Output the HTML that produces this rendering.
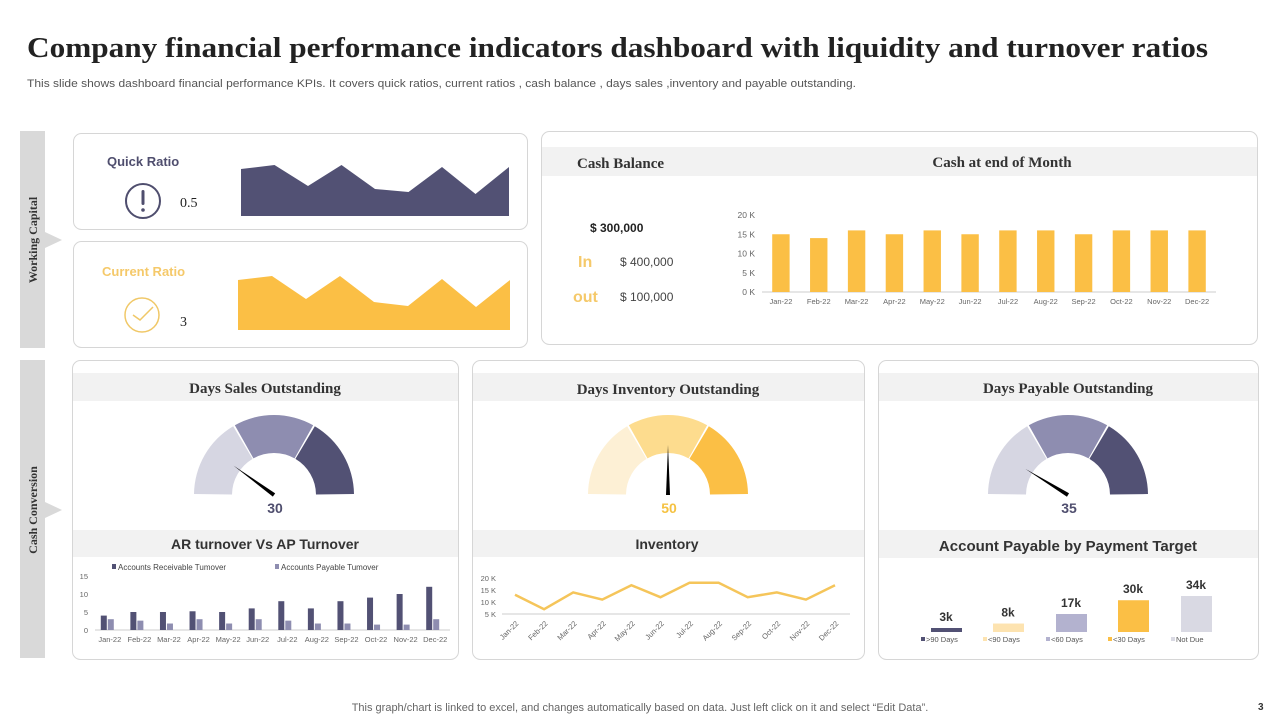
<!DOCTYPE html>
<html><head><meta charset="utf-8"><style>
body{margin:0;background:#fff;width:1280px;height:720px;overflow:hidden}
svg{display:block;font-family:"Liberation Sans",sans-serif}
.serif{font-family:"Liberation Serif",serif;font-weight:bold}
</style></head><body>
<svg id="s" width="1280" height="720" xmlns="http://www.w3.org/2000/svg">
<text x="27" y="57" class="serif" font-size="28" fill="#222" textLength="1181" lengthAdjust="spacingAndGlyphs">Company financial performance indicators dashboard with liquidity and turnover ratios</text>
<text x="27" y="87" font-size="11" fill="#555" textLength="829" lengthAdjust="spacingAndGlyphs">This slide shows dashboard financial performance KPIs. It covers quick ratios, current ratios , cash balance , days sales ,inventory and payable outstanding.</text>

<rect x="20" y="131" width="25" height="217" fill="#d9d9d9"/>
<polygon points="45,232 62,240 45,248" fill="#d9d9d9"/>
<text transform="translate(37,240) rotate(-90)" text-anchor="middle" class="serif" font-size="12" fill="#333">Working Capital</text>
<rect x="20" y="360" width="25" height="298" fill="#d9d9d9"/>
<polygon points="45,502 62,510 45,518" fill="#d9d9d9"/>
<text transform="translate(37,510) rotate(-90)" text-anchor="middle" class="serif" font-size="12" fill="#333">Cash Conversion</text>

<g fill="#fff" stroke="#d6d6d6" stroke-width="1">
<rect x="73.5" y="133.5" width="454" height="96" rx="8"/>
<rect x="73.5" y="241.5" width="454" height="106" rx="8"/>
<rect x="541.5" y="131.5" width="716" height="213" rx="8"/>
<rect x="72.5" y="360.5" width="386" height="299" rx="8"/>
<rect x="472.5" y="360.5" width="392" height="299" rx="8"/>
<rect x="878.5" y="360.5" width="380" height="299" rx="8"/>
</g>
<g fill="#f2f2f2">
<rect x="542" y="147" width="715" height="29"/>
<rect x="73" y="373" width="385" height="28"/><rect x="473" y="373" width="391" height="28"/><rect x="879" y="373" width="379" height="28"/>
<rect x="73" y="530" width="385" height="27"/><rect x="473" y="530" width="391" height="27"/><rect x="879" y="530" width="379" height="28"/>
</g>

<text x="107" y="166" font-size="13" font-weight="bold" fill="#4f4e6e">Quick Ratio</text>
<circle cx="143" cy="201" r="17" fill="none" stroke="#4f4e6e" stroke-width="2"/>
<rect x="141.5" y="190" width="3" height="15" rx="1.5" fill="#4f4e6e"/><circle cx="143" cy="210" r="1.8" fill="#4f4e6e"/>
<text x="180" y="207" font-family="Liberation Serif" font-size="14" fill="#222">0.5</text>
<text x="102" y="276" font-size="13" font-weight="bold" fill="#f5c96a">Current Ratio</text>
<circle cx="142" cy="315" r="17" fill="none" stroke="#f0c868" stroke-width="1.5"/>
<polyline points="133,315 140,320 153,307" fill="none" stroke="#f0c868" stroke-width="1.5"/>
<text x="180" y="326" font-family="Liberation Serif" font-size="14" fill="#222">3</text>

<text x="577" y="168" class="serif" font-size="15" fill="#333">Cash Balance</text>
<text x="1002" y="167" text-anchor="middle" class="serif" font-size="15" fill="#333">Cash at end of Month</text>
<text x="590" y="232" font-size="12" font-weight="bold" fill="#222">$ 300,000</text>
<text x="578" y="267" font-size="16" font-weight="bold" fill="#f5c96a">In</text>
<text x="620" y="266" font-size="12" fill="#444">$ 400,000</text>
<text x="573" y="302" font-size="16" font-weight="bold" fill="#f5c96a">out</text>
<text x="620" y="301" font-size="12" fill="#444">$ 100,000</text>

<text x="265" y="393" text-anchor="middle" class="serif" font-size="15" fill="#333">Days Sales Outstanding</text>
<text x="668" y="394" text-anchor="middle" class="serif" font-size="15" fill="#333">Days Inventory Outstanding</text>
<text x="1068" y="393" text-anchor="middle" class="serif" font-size="15" fill="#333">Days Payable Outstanding</text>
<text x="265" y="549" text-anchor="middle" font-size="14" font-weight="bold" fill="#333">AR turnover Vs AP Turnover</text>
<text x="667" y="549" text-anchor="middle" font-size="14" font-weight="bold" fill="#333">Inventory</text>
<text x="1068" y="551" text-anchor="middle" font-size="15" font-weight="bold" fill="#333">Account Payable by Payment Target</text>

<text x="640" y="711" text-anchor="middle" font-size="11" fill="#666">This graph/chart is linked to excel,  and changes automatically based on data. Just left click on it and select “Edit Data”.</text>
<text x="1258" y="710" font-size="10" font-weight="bold" fill="#333">3</text>
<g id="dyn"></g>
</svg>
<script>
const months=["Jan-22","Feb-22","Mar-22","Apr-22","May-22","Jun-22","Jul-22","Aug-22","Sep-22","Oct-22","Nov-22","Dec-22"];
const quickRatio=[47,51,30,51,27,24,49,22,49];
const currentRatio=[50,54,31,54,28,24,51,23,50];
const cashK=[15,14,16,15,16,15,16,16,15,16,16,16];
const cashTicks=["0 K","5 K","10 K","15 K","20 K"];
const arTurnover=[4,5,5,5.2,5,6,8,6,8,9,10,12];
const apTurnover=[3,2.6,1.8,3,1.8,3,2.6,1.8,1.8,1.5,1.5,3];
const arTicks=["0","5","10","15"];
const inventoryK=[13,7,14,11,17,12,18,18,12,14,11,17];
const invTicks=["5 K","10 K","15 K","20 K"];
const payCats=[">90 Days","<90 Days","<60 Days","<30 Days","Not Due"];
const payVals=[3,8,17,30,34];
const payLabels=["3k","8k","17k","30k","34k"];
const gaugeVals=[30,50,35];
const gaugeMax=[150,100,200];

const NS="http://www.w3.org/2000/svg",G=document.getElementById('dyn');
function mk(t,a,txt){const e=document.createElementNS(NS,t);for(const k in a)e.setAttribute(k,a[k]);if(txt!==undefined)e.textContent=txt;G.appendChild(e);return e;}

function area(vals,x0,x1,base,col,name){
  const sx=i=>x0+i*(x1-x0)/(vals.length-1);
  let d=`M${x0},${base}`;vals.forEach((v,i)=>d+=` L${sx(i)},${base-v}`);d+=` L${x1},${base} Z`;
  const p=mk('path',{d,fill:col});
  
  
}
area(quickRatio,241,509,216,'#525174','quick-ratio-area');
area(currentRatio,238,510,330,'#fbbf45','current-ratio-area');

{const y0=292,yk=v=>y0-v*(77/20),x0=762,x1=1216,bw=(x1-x0)/12;
 cashTicks.forEach((t,i)=>mk('text',{x:755,y:yk(i*5)+3,'text-anchor':'end','font-size':8.5,fill:'#666'},t));
 mk('line',{x1:x0,y1:y0,x2:x1,y2:y0,stroke:'#ccc'});
 cashK.forEach((v,i)=>{const r=mk('rect',{x:x0+i*bw+bw*0.27,y:yk(v),width:bw*0.46,height:y0-yk(v),fill:'#fbbf45'});
  
  
  mk('text',{x:x0+i*bw+bw/2,y:y0+12,'text-anchor':'middle','font-size':7.5,fill:'#666'},months[i]);});}

{const y0=630,yv=v=>y0-v*(54/15),x0=95,x1=450,bw=(x1-x0)/12;
 arTicks.forEach((t,i)=>mk('text',{x:88,y:yv(i*5)+3,'text-anchor':'end','font-size':7.5,fill:'#666'},t));
 mk('line',{x1:x0,y1:y0,x2:x1,y2:y0,stroke:'#ccc'});
 months.forEach((m,i)=>{const cx=x0+i*bw+bw/2;
  const a=mk('rect',{x:cx-9,y:yv(arTurnover[i]),width:6,height:y0-yv(arTurnover[i]),fill:'#525174'});
  
  
  const b=mk('rect',{x:cx-2,y:yv(apTurnover[i]),width:6,height:y0-yv(apTurnover[i]),fill:'#8e8db0'});
  
  
  mk('text',{x:cx,y:y0+12,'text-anchor':'middle','font-size':7.5,fill:'#666'},m);});
 mk('rect',{x:112,y:564,width:4,height:5,fill:'#525174'});
 mk('text',{x:118,y:570,'font-size':8,fill:'#444'},'Accounts Receivable Tumover');
 mk('rect',{x:275,y:564,width:4,height:5,fill:'#8e8db0'});
 mk('text',{x:281,y:570,'font-size':8,fill:'#444'},'Accounts Payable Tumover');}

{const y0=614,yv=v=>y0-(v-5)*(36/15),x0=515,x1=835,sx=i=>x0+i*(x1-x0)/11;
 invTicks.forEach((t,i)=>mk('text',{x:496,y:yv(5+i*5)+3,'text-anchor':'end','font-size':7.5,fill:'#666'},t));
 mk('line',{x1:502,y1:y0,x2:850,y2:y0,stroke:'#ccc'});
 const l=mk('polyline',{points:inventoryK.map((v,i)=>sx(i)+','+yv(v)).join(' '),fill:'none',stroke:'#f5c55a','stroke-width':2.5});
 
 
 months.forEach((m,i)=>mk('text',{transform:`translate(${sx(i)+4},${y0+10}) rotate(-45)`,'text-anchor':'end','font-size':7.5,fill:'#666'},m));}

{const y0=632,sc=36/34,cols=['#525174','#fde3b0','#b3b2cf','#fbbf45','#d9d9e3'],xs=[946,1008,1071,1133,1196];
 payVals.forEach((v,i)=>{const h=Math.max(v*sc,4);
  const r=mk('rect',{x:xs[i]-15,y:y0-h,width:31,height:h,fill:cols[i]});
  
  
  mk('text',{x:xs[i],y:y0-h-7,'text-anchor':'middle','font-size':12,'font-weight':'bold',fill:'#333'},payLabels[i]);
  mk('rect',{x:xs[i]-25,y:637,width:4,height:4,fill:cols[i]});
  mk('text',{x:xs[i]-20,y:642,'font-size':7.5,fill:'#555'},payCats[i]);});}

function gauge(cx,cy,cols,val,max,vcol,name){
  const R=80,r=42;
  for(let k=0;k<3;k++){const a0=Math.PI-k*Math.PI/3-0.012,a1=Math.PI-(k+1)*Math.PI/3+0.012;
    const p=(a,rr)=>[cx+rr*Math.cos(a),cy-rr*Math.sin(a)];
    const [x1,y1]=p(a0,R),[x2,y2]=p(a1,R),[x3,y3]=p(a1,r),[x4,y4]=p(a0,r);
    const s=mk('path',{d:`M${x1},${y1} A${R},${R} 0 0 1 ${x2},${y2} L${x3},${y3} A${r},${r} 0 0 0 ${x4},${y4} Z`,fill:cols[k]});
    
    }
  const a=Math.PI-val/max*Math.PI,L=50;
  const tx=cx+L*Math.cos(a),ty=cy-L*Math.sin(a),nx=-Math.sin(a)*2,ny=-Math.cos(a)*2;
  const n=mk('polygon',{points:`${tx},${ty} ${cx+nx},${cy+ny} ${cx-nx},${cy-ny}`,fill:'#000'});
  
  
  mk('text',{x:cx+1,y:cy+18,'text-anchor':'middle','font-size':14,'font-weight':'bold',fill:vcol},String(val));
}
gauge(274,495,['#d6d6e2','#8e8db0','#525174'],gaugeVals[0],gaugeMax[0],'#4f4e6e','dso-gauge');
gauge(668,495,['#fdf0d5','#fddc8e','#fbbf45'],gaugeVals[1],gaugeMax[1],'#f5c242','dio-gauge');
gauge(1068,495,['#d6d6e2','#8e8db0','#525174'],gaugeVals[2],gaugeMax[2],'#4f4e6e','dpo-gauge');
</script>
</body></html>
